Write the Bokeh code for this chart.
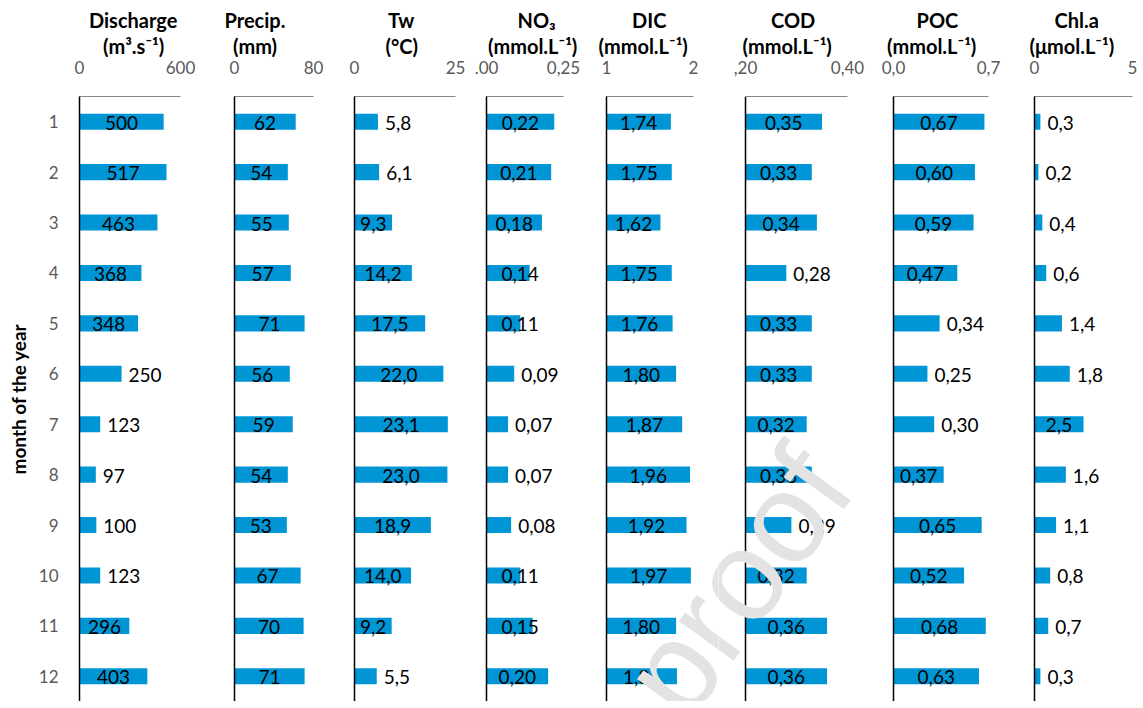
from bokeh.plotting import figure
from bokeh.models import Range1d, FactorRange, FixedTicker, Label, Title, ColumnDataSource
from bokeh.layouts import row
from bokeh.embed import file_html
from bokeh.resources import INLINE
from bokeh.core.properties import value
import math

# ---------------- data ----------------
months = [str(i) for i in range(1, 13)]

discharge = [500, 517, 463, 368, 348, 250, 123, 97, 100, 123, 296, 403]
precip = [62, 54, 55, 57, 71, 56, 59, 54, 53, 67, 70, 71]
tw = [5.8, 6.1, 9.3, 14.2, 17.5, 22.0, 23.1, 23.0, 18.9, 14.0, 9.2, 5.5]
no3 = [0.22, 0.21, 0.18, 0.14, 0.11, 0.09, 0.07, 0.07, 0.08, 0.11, 0.15, 0.20]
dic = [1.74, 1.75, 1.62, 1.75, 1.76, 1.80, 1.87, 1.96, 1.92, 1.97, 1.80, 1.81]
cod = [0.35, 0.33, 0.34, 0.28, 0.33, 0.33, 0.32, 0.33, 0.29, 0.32, 0.36, 0.36]
poc = [0.67, 0.60, 0.59, 0.47, 0.34, 0.25, 0.30, 0.37, 0.65, 0.52, 0.68, 0.63]
chla = [0.3, 0.2, 0.4, 0.6, 1.4, 1.8, 2.5, 1.6, 1.1, 0.8, 0.7, 0.3]

titles_line1 = ["Discharge", "Precip.", "Tw", "NO₃", "DIC", "COD", "POC", "Chl.a"]
titles_line2 = ["(m³.s⁻¹)", "(mm)", "(°C)", "(mmol.L⁻¹)", "(mmol.L⁻¹)",
                "(mmol.L⁻¹)", "(mmol.L⁻¹)", "(μmol.L⁻¹)"]
axis_min = [0, 0, 0, 0.0, 1, 0.20, 0.0, 0]
axis_max = [600, 80, 25, 0.25, 2, 0.40, 0.7, 5]
tick_min_labels = ["0", "0", "0", ".00", "1", ",20", "0,0", "0"]
tick_max_labels = ["600", "80", "25", "0,25", "2", "0,40", "0,7", "5"]
decimals = [0, 0, 1, 2, 2, 2, 2, 1]
series = [discharge, precip, tw, no3, dic, cod, poc, chla]

y_title = "month of the year"
watermark = "proof"

# ---------------- layout / style ----------------
BAR = "#0096d6"
FONT = "Lato"
fig_bounds = [0, 205, 332, 470, 584, 718, 868, 1010, 1143]
# page-x extent of each value axis
axes_px = [(79, 180), (234, 313), (354, 455), (486, 563), (606, 693),
           (745, 847), (893, 988), (1034, 1132)]
# page-x extent of each plotting frame (wider than the axis where the watermark passes)
frames_px = [(79, 180), (234, 313), (354, 455), (486, 563), (606, 718),
             (718, 866), (893, 988), (1034, 1132)]
# page-x centres and approximate widths of the two title lines
title_cx1 = [136, 257, 400, 536, 648, 792, 936, 1078]
title_cx2 = [138, 258, 401, 536, 647, 792, 935, 1076]
title_w1 = [95, 66, 25, 38, 33, 43, 40, 48]
title_w2 = [71, 51, 32, 97, 98, 100, 97, 94]
FRAME_TOP = 96
FRAME_BOTTOM = 701
ROW_PX = (FRAME_BOTTOM - FRAME_TOP) / 12.0
WM_CENTER = (736, 581)
WM_ANGLE = math.radians(54)


def px_to_x(i, px):
    a0, a1 = axes_px[i]
    lo, hi = axis_min[i], axis_max[i]
    return lo + (px - a0) / (a1 - a0) * (hi - lo)


def page_to_data(i, px, py):
    return px_to_x(i, px), 12 + (FRAME_TOP - py) / ROW_PX


figs = []
for i in range(8):
    a0, a1 = axes_px[i]
    f0, f1 = frames_px[i]
    w = fig_bounds[i + 1] - fig_bounds[i]
    bl = f0 - fig_bounds[i]
    br = fig_bounds[i + 1] - f1
    lo, hi = axis_min[i], axis_max[i]
    p = figure(width=w, height=FRAME_BOTTOM, title=None,
               x_range=Range1d(px_to_x(i, f0), px_to_x(i, f1)),
               y_range=FactorRange(factors=months[::-1]),
               x_axis_location="above",
               output_backend="svg", toolbar_location=None,
               min_border_left=bl, min_border_right=br,
               min_border_top=FRAME_TOP, min_border_bottom=0)
    p.outline_line_color = None
    p.xgrid.visible = False
    p.ygrid.visible = False
    p.background_fill_color = None
    p.border_fill_color = None

    xa = p.xaxis[0]
    xa.bounds = (lo, hi)
    xa.ticker = FixedTicker(ticks=[lo, hi])
    xa.major_label_overrides = {lo: tick_min_labels[i], hi: tick_max_labels[i]}
    xa.major_tick_out = 0
    xa.major_tick_in = 0
    xa.minor_tick_out = 0
    xa.minor_tick_in = 0
    xa.axis_line_color = "#868686"
    xa.axis_line_width = 1.2
    xa.major_label_text_font = FONT
    xa.major_label_text_font_size = "17px"
    xa.major_label_text_color = "#595959"
    xa.major_label_standoff = 23

    ya = p.yaxis[0]
    ya.major_tick_out = 0
    ya.major_tick_in = 0
    ya.minor_tick_out = 0
    ya.minor_tick_in = 0
    ya.axis_line_color = "black"
    ya.axis_line_width = 1.5
    if f0 != a0:
        ya.fixed_location = lo
    if i == 0:
        ya.major_label_text_font = FONT
        ya.major_label_text_font_size = "17px"
        ya.major_label_text_color = "#595959"
        ya.major_label_standoff = 21
        ya.axis_label = y_title
        ya.axis_label_text_font = FONT
        ya.axis_label_text_font_size = "19px"
        ya.axis_label_text_font_style = "bold"
        ya.axis_label_text_color = "black"
        ya.axis_label_standoff = 6
    else:
        ya.major_label_text_font_size = "0px"
        ya.major_label_standoff = 0

    vals = series[i]
    src = ColumnDataSource(dict(m=months, v=vals))
    p.hbar(y="m", left=lo, right="v", height=0.32, source=src,
           fill_color=BAR, line_color=None)

    # data labels: centred in long bars, after the end of short ones,
    # and overlapping the bar end when neither fits
    axis_w = a1 - a0
    groups = {"in": dict(x=[], m=[], t=[]), "out": dict(x=[], m=[], t=[]),
              "mid": dict(x=[], m=[], t=[])}
    for m, v in zip(months, vals):
        t = f"{v:.{decimals[i]}f}".replace(".", ",")
        nd = sum(c.isdigit() for c in t)
        est = 11 * nd + 4.5 * t.count(",")
        bar_px = (v - lo) / (hi - lo) * axis_w
        if bar_px >= est + 10:
            g, x = "in", (lo + v) / 2
        elif bar_px + 7 + est <= axis_w:
            g, x = "out", v
        else:
            g, x = "mid", lo
        groups[g]["x"].append(x); groups[g]["m"].append(m); groups[g]["t"].append(t)
    common = dict(text_font=value(FONT), text_font_size="19px", text_color="black",
                  text_baseline="middle", y_offset=1)
    placement = {"in": dict(text_align="center"),
                 "out": dict(text_align="left", x_offset=7),
                 "mid": dict(text_align="left", x_offset=15)}
    for g, d in groups.items():
        if d["x"]:
            p.text(x="x", y="m", text="t", source=ColumnDataSource(d),
                   **placement[g], **common)

    # two-line bold panel titles (second line added first: it sits nearest the axis)
    for txt, cx, tw_ in ((titles_line2[i], title_cx2[i], title_w2[i]),
                         (titles_line1[i], title_cx1[i], title_w1[i])):
        p.add_layout(Title(text=txt, align="left", offset=cx - tw_ / 2 - f0,
                           text_font=FONT, text_font_size="20px",
                           text_font_style="bold", text_color="black",
                           standoff=0), "above")

    # light-grey watermark crossing the DIC and COD panels
    if i in (4, 5):
        wx, wy = page_to_data(i, *WM_CENTER)
        p.add_layout(Label(x=wx, y=wy, text=watermark, angle=WM_ANGLE,
                           text_font="Liberation Sans", text_font_size="128px",
                           text_color="#e3e3e3", text_align="center",
                           text_baseline="middle"))
    figs.append(p)

layout = row(*figs, spacing=0)
open("out.html", "w").write(file_html(layout, INLINE))
